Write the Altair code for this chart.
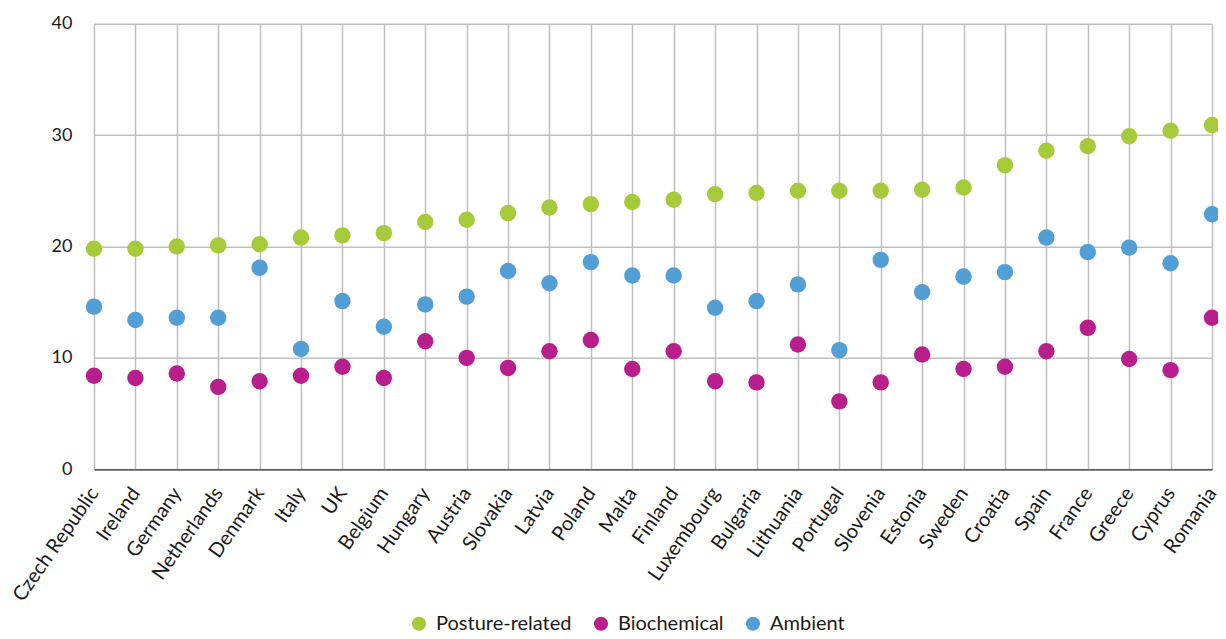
import altair as alt
import pandas as pd

countries = ["Czech Republic", "Ireland", "Germany", "Netherlands", "Denmark", "Italy", "UK",
             "Belgium", "Hungary", "Austria", "Slovakia", "Latvia", "Poland", "Malta", "Finland",
             "Luxembourg", "Bulgaria", "Lithuania", "Portugal", "Slovenia", "Estonia", "Sweden",
             "Croatia", "Spain", "France", "Greece", "Cyprus", "Romania"]
posture = [19.8, 19.8, 20.0, 20.1, 20.2, 20.8, 21.0, 21.2, 22.2, 22.4, 23.0, 23.5, 23.8, 24.0,
           24.2, 24.7, 24.8, 25.0, 25.0, 25.0, 25.1, 25.3, 27.3, 28.6, 29.0, 29.9, 30.4, 30.9]
biochemical = [8.4, 8.2, 8.6, 7.4, 7.9, 8.4, 9.2, 8.2, 11.5, 10.0, 9.1, 10.6, 11.6, 9.0,
               10.6, 7.9, 7.8, 11.2, 6.1, 7.8, 10.3, 9.0, 9.2, 10.6, 12.7, 9.9, 8.9, 13.6]
ambient = [14.6, 13.4, 13.6, 13.6, 18.1, 10.8, 15.1, 12.8, 14.8, 15.5, 17.8, 16.7, 18.6, 17.4,
           17.4, 14.5, 15.1, 16.6, 10.7, 18.8, 15.9, 17.3, 17.7, 20.8, 19.5, 19.9, 18.5, 22.9]
series = ["Posture-related", "Biochemical", "Ambient"]
colors = ["#A6CB3A", "#B91E8D", "#529FD6"]

rows = []
for name, vals in zip(series, [posture, biochemical, ambient]):
    for c, v in zip(countries, vals):
        rows.append({"country": c, "value": v, "series": name})
df = pd.DataFrame(rows)

FONT = "Lato"

chart = alt.Chart(df).mark_circle(size=270, opacity=1).encode(
    x=alt.X("country:N", sort=countries, title=None,
            scale=alt.Scale(type="point", padding=0),
            axis=alt.Axis(labelAngle=-55, labelFontSize=20, labelFont=FONT, labelColor="#1a1a1a",
                          grid=True, gridColor="#bfbfbf", gridWidth=1.5,
                          domainColor="#595959", domainWidth=1.5, ticks=False,
                          labelPadding=20, labelOverlap=False)),
    y=alt.Y("value:Q", title=None, scale=alt.Scale(domain=[0, 40], nice=False),
            axis=alt.Axis(values=[0, 10, 20, 30, 40], labelFontSize=18, labelFont=FONT,
                          labelColor="#1a1a1a", grid=True, gridColor="#bfbfbf", gridWidth=1.5,
                          domain=False, ticks=False, labelPadding=22)),
    color=alt.Color("series:N", sort=series,
                    scale=alt.Scale(domain=series, range=colors),
                    legend=alt.Legend(title=None, orient="none", direction="horizontal",
                                      legendX=315, legendY=590,
                                      symbolType="circle", symbolSize=200, symbolStrokeWidth=0,
                                      labelFontSize=20, labelFont=FONT, labelColor="#1a1a1a",
                                      labelOffset=7, columnPadding=19)),
    order=alt.Order("series:N"),
).properties(
    width=1118,
    height=445.6,
    autosize=alt.AutoSizeParams(type="none"),
    padding={"left": 86, "top": 15.7, "right": 6, "bottom": 161.7},
).configure_view(stroke=None)

chart.save("out.html", embed_options={"renderer": "svg", "actions": False})
